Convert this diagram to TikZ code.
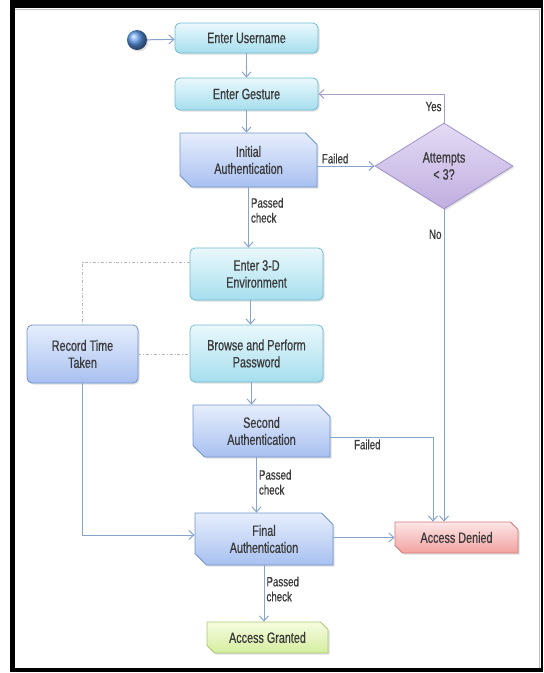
\documentclass[tikz,border=0pt]{standalone}
\usepackage{fontspec}
\setmainfont{Liberation Sans}[FakeStretch=0.72, FakeBold=0.6]
\usetikzlibrary{arrows.meta, shapes.geometric, shapes.misc, shadows, calc, positioning}

\definecolor{txt}{HTML}{3A3A3A}
\definecolor{flow}{HTML}{86A4CE}
\definecolor{yesline}{HTML}{A89EC8}
\definecolor{cyantop}{HTML}{EAF8FC}
\definecolor{cyanbot}{HTML}{A6DEEE}
\definecolor{cyanline}{HTML}{72BCD6}
\definecolor{bluetop}{HTML}{E6EEFC}
\definecolor{bluebot}{HTML}{A8C0F0}
\definecolor{blueline}{HTML}{7294CE}
\definecolor{purptop}{HTML}{E4DBF4}
\definecolor{purpbot}{HTML}{C0AEE0}
\definecolor{purpline}{HTML}{A090CC}
\definecolor{redtop}{HTML}{FDE6E6}
\definecolor{redbot}{HTML}{F2A2A2}
\definecolor{redline}{HTML}{D27A7A}
\definecolor{greentop}{HTML}{F6FCE0}
\definecolor{greenbot}{HTML}{D4EE9E}
\definecolor{greenline}{HTML}{ACC874}
\definecolor{startball}{HTML}{5A96E6}

\newcommand{\boxfont}{\fontsize{15}{17}\selectfont}
\newcommand{\lblfont}{\fontsize{13.5}{15}\selectfont}

\tikzset{
  shade/.style={drop shadow={shadow xshift=1.5pt, shadow yshift=-1.5pt, opacity=.25}},
  base/.style={shade, text=txt, font=\boxfont, align=center, inner sep=0pt, line width=0.8pt},
  actbox/.style={base, draw=cyanline, rounded corners=5pt, top color=cyantop, bottom color=cyanbot},
  recbox/.style={base, draw=blueline, rounded corners=5pt, top color=bluetop, bottom color=bluebot},
  authbox/.style={base, draw=blueline, chamfered rectangle, chamfered rectangle corners={north east, south west},
    chamfered rectangle xsep=8pt, top color=bluetop, bottom color=bluebot},
  endbox/.style={base, chamfered rectangle, chamfered rectangle corners={north east, south west},
    chamfered rectangle xsep=4pt},
  decide/.style={base, diamond, draw=purpline, top color=purptop, bottom color=purpbot},
  flowline/.style={draw=flow, line width=1pt, -{Straight Barb[length=5pt,width=9pt]}},
  timeline/.style={draw=gray!55, line width=0.8pt, dash dot},
  lbl/.style={font=\lblfont, text=txt, align=left, inner sep=2pt}
}

\begin{document}
\begin{tikzpicture}[x=1pt, y=-1pt]
  \useasboundingbox (0,0) rectangle (544,673);
  % frame
  \fill[black] (10,0) rectangle (543,672);
  \fill[white] (15,8) rectangle (541,668);
  \draw[gray!50] (15,9.5) -- (539.5,9.5) -- (539.5,668);

  % nodes
  \node[circle, shading=ball, ball color=startball, minimum size=20pt, inner sep=0pt, shade] (start) at (137,40) {};
  \node[actbox, minimum width=143pt, minimum height=30pt] (user) at (246.5,38) {Enter Username};
  \node[actbox, minimum width=143pt, minimum height=32pt] (gesture) at (246.5,94) {Enter Gesture};
  \node[authbox, minimum width=137pt, minimum height=54pt] (initauth) at (248.5,160) {Initial\\Authentication};
  \node[decide, minimum width=138pt, minimum height=86pt] (attempts) at (444,166) {Attempts\\< 3?};
  \node[actbox, minimum width=133pt, minimum height=52pt] (env3d) at (256.5,274) {Enter 3-D\\Environment};
  \node[actbox, minimum width=133pt, minimum height=57pt] (browse) at (256.5,353.5) {Browse and Perform\\Password};
  \node[recbox, minimum width=111pt, minimum height=58pt] (record) at (82.5,354) {Record Time\\Taken};
  \node[authbox, minimum width=137pt, minimum height=52pt] (second) at (261.5,431) {Second\\Authentication};
  \node[authbox, minimum width=138pt, minimum height=52pt] (final) at (264,539) {Final\\Authentication};
  \node[endbox, draw=redline, top color=redtop, bottom color=redbot, minimum width=123pt, minimum height=31pt] (denied) at (456.5,537.5) {Access Denied};
  \node[endbox, draw=greenline, top color=greentop, bottom color=greenbot, minimum width=121pt, minimum height=31pt] (granted) at (267.5,637.5) {Access Granted};

  % main flow
  \draw[flowline] (start) -- (user);
  \draw[flowline] (user.south) -- (user.south |- gesture.north);
  \draw[flowline] (gesture.south) -- (gesture.south |- initauth.north);
  \draw[flowline] (initauth.south) -- (initauth.south |- env3d.north)
    node[lbl, right, pos=0.38] {Passed\\check};
  \draw[flowline] ([xshift=-6pt]env3d.south) -- ([xshift=-6pt]env3d.south |- browse.north);
  \draw[flowline] ([xshift=-5pt]browse.south) -- ([xshift=-5pt]browse.south |- second.north);
  \draw[flowline] ([xshift=-5pt]second.south) -- ([xshift=-5pt]second.south |- final.north)
    node[lbl, right, pos=0.45] {Passed\\check};
  \draw[flowline] (final.south) -- (final.south |- granted.north)
    node[lbl, right, pos=0.42] {Passed\\check};

  % decisions
  \draw[flowline] (attempts.west -| initauth.east) -- (attempts.west)
    node[lbl, above, pos=0.31] {Failed};
  \draw[flowline, draw=yesline] (attempts.north) |- (gesture.east)
    node[lbl, left, pos=0.28] {Yes};
  \draw[flowline] (attempts.south) -- (attempts.south |- denied.north)
    node[lbl, left, pos=0.08] {No};
  \draw[flowline] ([yshift=-6pt]second.east) -| ([xshift=-23.5pt]denied.north)
    node[lbl, below, pos=0.18] {Failed};
  \draw[flowline] (final.east |- denied.west) -- (denied.west);

  % timing
  \draw[timeline] ([yshift=12pt]env3d.west) -| (record.north);
  \draw[timeline] (record.east) -- (record.east -| browse.west);
  \draw[flowline] (record.south) |- ([yshift=4pt]final.west);
\end{tikzpicture}
\end{document}
